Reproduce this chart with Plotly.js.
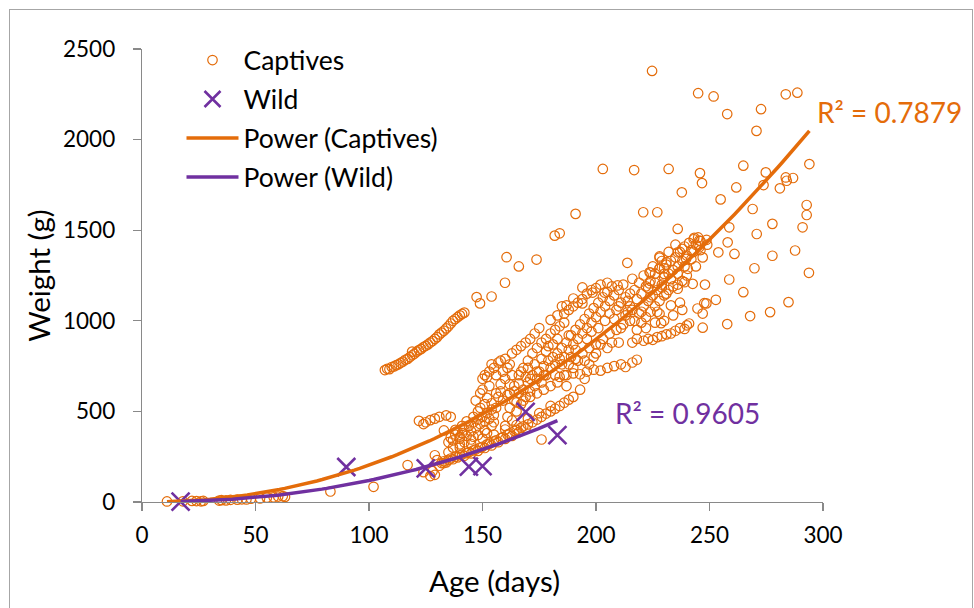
<!DOCTYPE html>
<html>
<head>
<meta charset="utf-8">
<script src="https://cdn.plot.ly/plotly-3.0.1.min.js"></script>
<style>
  html, body { margin: 0; padding: 0; background: #ffffff; }
  #chart { width: 974px; height: 608px; }
  #frame { position: absolute; left: 9px; top: 9px; width: 962px; height: 640px;
           border: 1px solid #a6a6a6; pointer-events: none; }
</style>
</head>
<body>
<div id="chart"></div>
<div id="frame"></div>
<script>
// Captive-reared birds: age (days) and body weight (g)
const capAge = [
  11, 18, 22, 24, 26, 27, 34, 35, 37, 39, 42, 44, 46, 48, 52, 55, 58, 60, 62, 63, 83, 102,
  107, 108, 109, 110, 111, 112, 113, 114, 115, 116, 117, 118, 119, 119, 120, 121, 122, 123, 124, 125,
  126, 127, 128, 129, 130, 131, 132, 133, 134, 135, 136, 137, 138, 139, 140, 141, 142,
  117, 124, 127, 128, 129, 130, 129, 133, 122, 124, 125, 127, 129, 131, 134, 136, 138, 140, 133,
  131, 132, 133, 134, 135, 136, 137, 138, 139, 140, 141, 142, 143, 144, 145, 146, 147, 148, 149, 150,
  151, 152, 153, 154, 155, 156, 157, 158, 159, 160, 161, 162, 163, 164, 165, 166, 167, 168, 169, 170,
  172, 174, 176, 178, 180, 182, 184, 186, 188, 190,
  135, 140, 145, 150, 155, 160, 165, 170, 175, 180,
  135, 136, 137, 138, 139, 140, 141, 142, 143, 144, 145, 146, 147, 148, 149, 150, 151, 152, 153, 154, 155,
  142, 145, 148, 151, 154, 137, 140, 146, 152, 155,
  147, 149, 150, 151, 152, 153, 154, 155, 156, 157, 158, 159, 160, 150, 153, 156, 158, 160, 161, 162,
  160, 161, 162, 163, 164, 165, 166, 167, 168, 169, 170, 171, 172, 173, 174, 175, 176, 177, 178, 179,
  180, 181, 182, 183, 184, 185,
  162, 164, 166, 168, 170, 172, 174, 176, 178, 180, 182, 184, 186,
  163, 165, 167, 169, 171, 173, 175,
  165, 168, 171, 174, 177, 180, 183,
  176,
  184, 187, 190, 193, 196, 199, 202, 205, 208, 211, 213, 216, 218,
  221, 223, 225, 227, 229, 231, 233, 235, 237, 239, 240, 241,
  228, 228.7, 247, 244.7, 247, 248.6,
  186, 187, 188, 189, 190, 191, 192, 193, 194, 195, 196, 197, 198, 199, 200,
  201, 202, 203, 204, 205, 206, 207, 208, 209, 210, 211, 212, 213, 214, 215,
  186, 188, 190, 192, 194, 196, 198, 200, 202, 205,
  188, 191, 194, 197, 200, 203, 206, 209, 212, 215,
  190, 195, 200, 205, 210,
  194, 198.5, 203.8, 209.5, 224, 228, 187, 190, 185, 194, 180, 183,
  216, 217, 218, 219, 220, 221, 222, 223, 224, 225, 226, 227, 228, 229, 230, 231,
  232, 233, 234, 235, 236, 237, 238, 239, 240, 241, 242, 243, 244, 245, 246,
  218, 220, 222, 224, 226, 228, 230, 232, 234, 236, 238,
  216, 218, 222, 226, 230, 234, 238,
  239.7, 240.4, 236, 238, 228, 231, 223.6, 228, 230, 223.6, 229, 242.6, 239, 236, 233, 243.3, 245.5, 248.7, 245.5,
  224.7, 245, 251.8, 283.6, 288.7, 272.7, 257.8, 270.7,
  203, 216.8, 232, 245.8, 246.7, 264.9, 274.8, 273.8,
  283.6, 286.8, 281, 284, 294, 237.8, 261.8, 191,
  181.8, 184, 220.8, 227, 292.8, 292.8, 291, 277.7,
  287.7, 277.7, 293.8, 254.9, 269, 236, 258.7, 270.8,
  160.6, 166, 173.8, 159.9, 154, 147.4, 148.9, 213.8,
  216, 258.7, 269.8, 258, 261, 253.9, 264.9, 284.8,
  252.8, 247.7, 267.9, 276.7, 257.8,
  141, 143, 146, 148, 149, 151, 152, 154, 156, 157, 158, 159, 161, 162, 163, 164, 166, 167, 169, 170,
  171, 173, 174, 176, 177, 178, 179, 181, 182, 183, 185, 186, 187, 188, 189, 191, 192, 193, 195, 197,
  196, 198, 199, 201, 202, 204, 206, 207, 208, 210, 211, 213, 214, 215, 217, 219, 220, 221, 223, 224,
  225, 226, 227, 229, 230, 231, 232, 233, 235, 236, 237, 239, 240, 242, 243, 244, 246, 247, 248, 249
];
const capWeight = [
  3, 4, 6, 5, 4, 6, 8, 10, 9, 12, 13, 15, 14, 18, 20, 24, 26, 30, 32, 28, 58, 84,
  728, 735, 733, 745, 748, 755, 760, 768, 775, 785, 790, 800, 810, 830, 818, 830, 838, 845, 855, 862,
  870, 880, 888, 900, 910, 925, 935, 945, 958, 970, 985, 1000, 1010, 1020, 1030, 1038, 1045,
  204, 165, 143, 170, 150, 231, 258, 215, 448, 430, 440, 452, 460, 470, 478, 470, 398, 360, 395,
  200, 215, 225, 218, 232, 240, 236, 250, 246, 258, 262, 255, 270, 275, 268, 285, 290, 282, 300, 305,
  298, 318, 322, 312, 335, 340, 330, 352, 358, 348, 372, 378, 365, 392, 398, 385, 410, 418, 405, 428,
  440, 455, 470, 488, 500, 515, 530, 548, 565, 580,
  275, 300, 320, 350, 372, 400, 425, 460, 490, 530,
  330, 355, 340, 372, 390, 350, 380, 400, 365, 420, 390, 440, 410, 455, 430, 470, 445, 490, 460, 510, 480,
  330, 345, 370, 395, 420, 300, 318, 360, 380, 440,
  560, 600, 680, 700, 690, 720, 760, 740, 700, 770, 780, 720, 790, 620, 640, 600, 650, 680, 740, 760,
  420, 470, 520, 450, 560, 500, 600, 540, 620, 580, 660, 610, 700, 640, 680, 720, 660, 750, 700, 780,
  740, 800, 760, 820, 790, 850,
  600, 640, 700, 740, 780, 820, 850, 880, 900, 930, 950, 970, 990,
  820, 840, 860, 880, 900, 930, 960,
  550, 560, 580, 600, 620, 640, 660,
  345,
  690, 700, 710, 705, 720, 730, 725, 740, 750, 760, 745, 770, 785,
  890, 900, 895, 910, 915, 925, 930, 945, 960, 955, 975, 985,
  1039, 987, 962, 1068, 1040, 1096,
  800, 880, 840, 920, 870, 950, 900, 980, 930, 1010, 960, 1040, 990, 1070, 1020,
  1100, 1050, 1130, 1080, 1160, 1110, 1190, 1140, 1060, 1170, 1100, 1200, 1130, 1050, 1150,
  1040, 1060, 1080, 1100, 1120, 1150, 1170, 1180, 1200, 1210,
  760, 790, 820, 850, 870, 900, 930, 950, 980, 1000,
  740, 780, 820, 850, 880,
  1184, 1156, 1156, 1195, 1266, 1349, 1085, 1123, 1080, 1096, 1005, 1030,
  1060, 1000, 1120, 1040, 1150, 1080, 1190, 1110, 1220, 1140, 1260, 1170, 1290, 1200, 1240, 1310,
  1260, 1330, 1280, 1350, 1300, 1380, 1330, 1410, 1360, 1430, 1390, 1450, 1420, 1460, 1440,
  950, 990, 1020, 1050, 1080, 1110, 1140, 1170, 1190, 1200, 1220,
  880, 900, 960, 990, 1000, 1030, 1060,
  1342, 1287, 1378, 1397, 1355, 1323, 1268, 1287, 1259, 1206, 1184, 1204, 1213, 1177, 1085, 1458, 1443, 1447, 1406,
  2379, 2256, 2238, 2250, 2259, 2168, 2141, 2048,
  1838, 1832, 1838, 1815, 1760, 1856, 1819, 1749,
  1791, 1788, 1731, 1773, 1865, 1709, 1736, 1590,
  1470, 1483, 1599, 1599, 1639, 1584, 1516, 1535,
  1388, 1359, 1265, 1670, 1617, 1507, 1516, 1479,
  1351, 1300, 1338, 1210, 1134, 1131, 1096, 1320,
  1232, 1228, 1290, 1433, 1369, 1378, 1158, 1103,
  1116, 1097, 1026, 1048, 982,
  420, 445, 470, 500, 520, 540, 575, 545, 520, 580, 610, 560, 590, 650, 700, 610, 655, 720, 690, 740,
  680, 760, 720, 790, 700, 830, 860, 870, 700, 900, 760, 700, 640, 920, 800, 840, 780, 620, 680, 760,
  900, 940, 800, 960, 870, 1000, 1040, 880, 1010, 1080, 960, 1030, 1110, 1080, 1170, 1210, 1050, 1250, 1180, 1130,
  1300, 1210, 1050, 1330, 1290, 1150, 1380, 1230, 1420, 1260, 1100, 1300, 1250, 1340, 1380, 1300, 1390, 1350, 1200, 1420
];

// Wild-caught birds
const wildAge = [17, 90, 125, 144, 150, 169, 183];
const wildWeight = [2, 193, 186, 195, 198, 497, 369];

// Power trendlines, weight = a * age^b, with their R² values
const capFit = { a: 0.010574, b: 2.142, r2: '0.7879' };
const wildFit = { a: 0.004611, b: 2.205, r2: '0.9605' };

const xTicks = [0, 50, 100, 150, 200, 250, 300];
const yTicks = [0, 500, 1000, 1500, 2000, 2500];

const ORANGE = '#E46C0A';
const PURPLE = '#7030A0';
const AXIS_GRAY = '#898989';
const FONT = 'Lato, "Open Sans", "DejaVu Sans", sans-serif';

// Sample a power curve across the age span of its own series
function powerCurve(ages, fit, steps) {
  const lo = Math.min(...ages), hi = Math.max(...ages);
  const xs = [], ys = [];
  for (let i = 0; i <= steps; i++) {
    const x = lo + (hi - lo) * i / steps;
    xs.push(x);
    ys.push(fit.a * Math.pow(x, fit.b));
  }
  return { x: xs, y: ys };
}

const capCurve = powerCurve(capAge, capFit, 120);
const wildCurve = powerCurve(wildAge, wildFit, 80);

const traces = [
  {
    name: 'Captives', x: capAge, y: capWeight, type: 'scatter', mode: 'markers',
    cliponaxis: false, legendgroup: 'a',
    marker: { symbol: 'circle-open', size: 9.5, color: ORANGE, line: { color: ORANGE, width: 1.2 } }
  },
  {
    name: 'Wild', x: wildAge, y: wildWeight, type: 'scatter', mode: 'markers',
    cliponaxis: false, legendgroup: 'b',
    marker: { symbol: 'x-thin-open', size: 18, color: PURPLE, line: { color: PURPLE, width: 2.6 } }
  },
  {
    name: 'Power (Captives)', x: capCurve.x, y: capCurve.y, type: 'scatter', mode: 'lines',
    cliponaxis: false, legendgroup: 'c',
    line: { color: ORANGE, width: 3.5 }
  },
  {
    name: 'Power (Wild)', x: wildCurve.x, y: wildCurve.y, type: 'scatter', mode: 'lines',
    cliponaxis: false, legendgroup: 'd',
    line: { color: PURPLE, width: 3.5 }
  }
];

const axisCommon = {
  showgrid: false, zeroline: false, showline: true,
  linecolor: AXIS_GRAY, linewidth: 1.3,
  ticks: 'outside', ticklen: 8, tickwidth: 1.3, tickcolor: AXIS_GRAY,
  tickfont: { family: FONT, size: 22.5, color: '#000' },
  automargin: false, fixedrange: true
};

const layout = {
  width: 974, height: 608,
  margin: { l: 141.5, r: 151, t: 48.5, b: 106.3, pad: 0 },
  paper_bgcolor: '#ffffff', plot_bgcolor: '#ffffff',
  font: { family: FONT, size: 22, color: '#000' },
  showlegend: true,
  xaxis: Object.assign({}, axisCommon, {
    range: [0, 300], tickmode: 'array', tickvals: xTicks, ticktext: xTicks.map(String),
    ticklabelstandoff: 5
  }),
  yaxis: Object.assign({}, axisCommon, {
    range: [0, 2500], tickmode: 'array', tickvals: yTicks, ticktext: yTicks.map(String),
    ticklabelstandoff: 13,
    title: { text: 'Weight (g)', font: { family: FONT, size: 29.5, color: '#000' }, standoff: 3 }
  }),
  legend: {
    x: 0.058, y: 1.028, xanchor: 'left', yanchor: 'top',
    bgcolor: 'rgba(0,0,0,0)', borderwidth: 0,
    font: { family: FONT, size: 26.5, color: '#000' },
    itemwidth: 52, traceorder: 'grouped', tracegroupgap: 1.5
  },
  annotations: [
    {
      // horizontal axis title, centred under the chart body
      x: 0.518, y: -0.173, xref: 'paper', yref: 'paper', showarrow: false,
      xanchor: 'center', yanchor: 'middle',
      text: 'Age (days)', font: { family: FONT, size: 29.5, color: '#000' }
    },
    {
      x: 296.5, y: 2150, xref: 'x', yref: 'y', showarrow: false,
      xanchor: 'left', yanchor: 'middle',
      text: 'R² = ' + capFit.r2, font: { family: FONT, size: 28, color: ORANGE }
    },
    {
      x: 207.5, y: 490, xref: 'x', yref: 'y', showarrow: false,
      xanchor: 'left', yanchor: 'middle',
      text: 'R² = ' + wildFit.r2, font: { family: FONT, size: 28, color: PURPLE }
    }
  ]
};

Plotly.newPlot('chart', traces, layout, { displayModeBar: false, staticPlot: true });
</script>
</body>
</html>
